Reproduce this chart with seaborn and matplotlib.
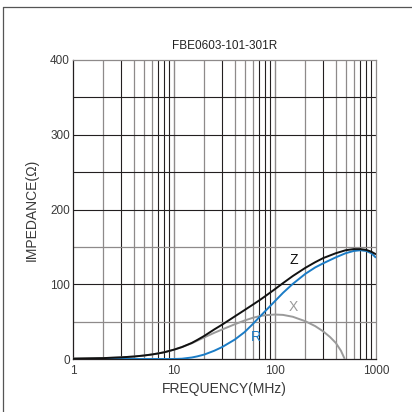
import matplotlib
matplotlib.use("Agg")
import matplotlib.pyplot as plt
from matplotlib.lines import Line2D
from matplotlib.ticker import FixedLocator, FixedFormatter, NullLocator
import pandas as pd
import seaborn as sns

sns.set_theme(style="white")
plt.rcParams["font.family"] = ["Liberation Sans", "DejaVu Sans"]

# Part number shown above the plot
title = "FBE0603-101-301R"

# Impedance curves (ohm) versus frequency (MHz)
freq = [1, 2, 3, 4, 5, 6, 7, 8, 10, 12, 15, 17, 20, 25, 30, 40, 50, 60, 70, 80, 100,
        120, 150, 200, 250, 300, 400, 500, 600, 700, 800, 900, 1000]
z_vals = [0.5, 1.2, 2.2, 3.3, 4.6, 6, 7.5, 9, 12.5, 16, 21.5, 25.5, 31, 39.5, 46, 57, 65.5, 72.5, 78.5, 84, 93.5,
          101.5, 111, 122, 129.5, 135, 141.5, 145.5, 147, 147, 146, 143.5, 140]
r_vals = [0, 0, 0, 0, 0, 0, 0, 0, 0, 0.4, 2, 3.5, 6, 11, 16, 26, 36, 46.5, 56, 64, 77.5,
          88.5, 100.5, 114, 122.5, 128, 136, 141.5, 144.5, 145.5, 144.5, 141.5, 135.5]

freq_x = [1, 2, 3, 4, 5, 6, 7, 8, 10, 12, 15, 17, 20, 25, 30, 40, 50, 60, 70, 80, 100,
          120, 150, 200, 250, 300, 350, 400, 450, 490]
x_vals = [0.5, 1.2, 2.2, 3.3, 4.6, 6, 7.5, 9, 12.5, 16, 21, 24.5, 29, 35, 39.5, 46.5, 51.5, 55, 57.3, 58.6, 59.5,
          59, 56.5, 50.5, 44, 37, 29.5, 21.5, 11, 0]

x_ticks = [1, 10, 100, 1000]
x_tick_labels = ["1", "10", "100", "1000"]
y_ticks = [0, 100, 200, 300, 400]
y_tick_labels = ["0", "100", "200", "300", "400"]

curve_labels = ["Z", "X", "R"]
curve_colors = ["#111111", "#9a9a9a", "#1b7cc6"]
label_pos = [(152, 132), (152, 70), (65, 30)]

dark = "#231f20"
grey = "#8e8a8a"
text_col = "#3a3a3a"

fig = plt.figure(figsize=(4.12, 4.12), dpi=100)
ax = fig.add_axes([73 / 412, 53 / 412, 303 / 412, 299 / 412])
ax.set_xscale("log")
ax.set_xlim(1, 1000)
ax.set_ylim(0, 400)

# Log grid: per-decade line shades
minor_shade = {2: grey, 3: dark, 4: grey, 5: grey, 6: grey, 7: dark, 8: dark, 9: dark}
for decade in (1, 10, 100):
    for m, c in minor_shade.items():
        ax.axvline(m * decade, color=c, lw=0.9 if c == grey else 0.8, zorder=1)
for d in (10, 100):
    ax.axvline(d, color=grey, lw=1.0, zorder=1)
h_shade = {50: grey, 100: dark, 150: grey, 200: dark, 250: dark, 300: dark, 350: dark}
for v, c in h_shade.items():
    ax.axhline(v, color=c, lw=0.9 if c == grey else 0.8, zorder=1)

df_main = pd.DataFrame({"freq": freq, "Z": z_vals, "R": r_vals})
df_x = pd.DataFrame({"freq": freq_x, "X": x_vals})

line_kw = dict(lw=1.4, solid_capstyle="butt", solid_joinstyle="round")
sns.lineplot(data=df_x, x="freq", y="X", ax=ax, color=curve_colors[1], zorder=3, **line_kw)
sns.lineplot(data=df_main, x="freq", y="R", ax=ax, color=curve_colors[2], zorder=4, **line_kw)
sns.lineplot(data=df_main, x="freq", y="Z", ax=ax, color=curve_colors[0], zorder=5, **line_kw)

for lab, col, (fx, fy) in zip(curve_labels, curve_colors, label_pos):
    ax.text(fx, fy, lab, color=col, fontsize=10, ha="center", va="center", zorder=6)

ax.xaxis.set_major_locator(FixedLocator(x_ticks))
ax.xaxis.set_major_formatter(FixedFormatter(x_tick_labels))
ax.xaxis.set_minor_locator(NullLocator())
ax.yaxis.set_major_locator(FixedLocator(y_ticks))
ax.yaxis.set_major_formatter(FixedFormatter(y_tick_labels))
ax.tick_params(axis="x", length=0, pad=4.5, labelsize=8.5, colors=text_col)
ax.tick_params(axis="y", length=0, pad=2.2, labelsize=8.5, colors=text_col)

ax.set_xlabel("FREQUENCY(MHz)", fontsize=10, color=text_col)
ax.set_ylabel("IMPEDANCE(Ω)", fontsize=10, color=text_col)
ax.xaxis.label.set_va("center")
ax.yaxis.label.set_va("center")
ax.xaxis.set_label_coords(0.5, -0.102)
ax.yaxis.set_label_coords(-0.135, 0.5)

ax.text(0.5, 1.047, title, transform=ax.transAxes, ha="center", va="center",
        fontsize=8.5, color="#222222")

for side, c in (("left", dark), ("bottom", dark), ("top", grey), ("right", grey)):
    ax.spines[side].set_visible(True)
    ax.spines[side].set_color(c)
    ax.spines[side].set_linewidth(0.9)

# Outer frame edges of the datasheet panel
fig.add_artist(Line2D([3 / 412, 3 / 412], [0, 1 - 7 / 412], transform=fig.transFigure,
                      color="#555555", lw=0.9))
fig.add_artist(Line2D([3 / 412, 1], [1 - 7 / 412, 1 - 7 / 412], transform=fig.transFigure,
                      color="#555555", lw=0.9))

fig.savefig("out.png", dpi=100)
